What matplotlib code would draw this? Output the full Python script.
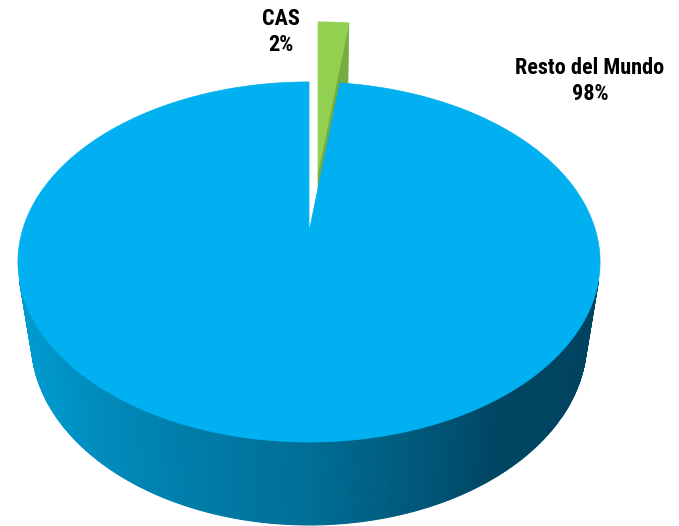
import numpy as np
import matplotlib.pyplot as plt
from matplotlib.patches import Polygon
from matplotlib import font_manager

labels = ["CAS", "Resto del Mundo"]
shares = [2, 98]

top_colors = ["#92D050", "#00B0F0"]
cut_color = "#76AC40"
label_pos = [(281, 32), (590, 81)]

W, H = 679, 526
CX, CY = 309, 232          # screen position of the pie centre
F, DIST = 1366, 4.76       # perspective
SIN_T = 0.61
COS_T = np.sqrt(1 - SIN_T ** 2)
DEPTH = 0.364
EXPLODE = [(9, -60), (0, 0)]   # screen offset of each slice


def proj(u, v, w, off=(0, 0)):
    d = DIST + v * COS_T - w * SIN_T
    return CX + F * u / d + off[0], CY - F * (v * SIN_T + w * COS_T) / d + off[1]


def wall_color(phi):
    # light on the left, dark toward the right
    a = np.mod(phi, 360)
    g = np.interp(a, [190, 215, 270, 305, 350], [158, 150, 110, 70, 66])
    b = np.interp(a, [190, 215, 270, 305, 350], [210, 202, 150, 99, 95])
    return (0, g / 255, b / 255)


names = {f.name for f in font_manager.fontManager.ttflist}
narrow = [n for n in ["Liberation Sans Narrow", "DejaVu Sans Condensed", "Roboto Condensed"] if n in names]
print(narrow)
plt.rcParams["font.family"] = narrow + ["Liberation Sans", "DejaVu Sans"]

fig = plt.figure(figsize=(W / 100, H / 100), dpi=100)
ax = fig.add_axes([0, 0, 1, 1])
ax.set_xlim(0, W)
ax.set_ylim(H, 0)
ax.axis("off")

# slice angles, clockwise from 12 o'clock
total = sum(shares)
starts, ends = [], []
a = 90.0
for s in shares:
    starts.append(a)
    a -= 360.0 * s / total
    ends.append(a)

# back slice first (CAS), then the big one
for i in [0, 1]:
    off = EXPLODE[i]
    a0, a1 = ends[i], starts[i]
    phis = np.linspace(a0, a1, max(int(abs(a1 - a0)), 2) * 2)
    rad = np.radians(phis)

    if i == 0:
        # cut face on the clockwise edge
        e = np.radians(a0)
        pts = [proj(0, 0, 0, off), proj(np.cos(e), np.sin(e), 0, off),
               proj(np.cos(e), np.sin(e), -DEPTH, off), proj(0, 0, -DEPTH, off)]
        ax.add_patch(Polygon(pts, closed=True, fc=cut_color, ec=cut_color, lw=0.5))
    else:
        # outer wall, only the part facing the viewer
        lim = -1 / (DIST * COS_T)
        for k in range(len(phis) - 1):
            pm = np.radians((phis[k] + phis[k + 1]) / 2)
            if np.sin(pm) >= lim:
                continue
            r0, r1 = rad[k], rad[k + 1]
            pts = [proj(np.cos(r0), np.sin(r0), 0, off), proj(np.cos(r1), np.sin(r1), 0, off),
                   proj(np.cos(r1), np.sin(r1), -DEPTH, off), proj(np.cos(r0), np.sin(r0), -DEPTH, off)]
            c = wall_color(np.degrees(pm))
            ax.add_patch(Polygon(pts, closed=True, fc=c, ec=c, lw=0.8))

    top = [proj(0, 0, 0, off)] + [proj(np.cos(r), np.sin(r), 0, off) for r in rad]
    ax.add_patch(Polygon(top, closed=True, fc=top_colors[i], ec=top_colors[i], lw=0.5))

for i in range(len(labels)):
    ax.text(label_pos[i][0], label_pos[i][1], f"{labels[i]}\n{shares[i]}%",
            ha="center", va="center", fontsize=16, fontweight="bold",
            fontstretch="condensed", linespacing=1.25, color="black")

fig.savefig("out.png", dpi=100)
